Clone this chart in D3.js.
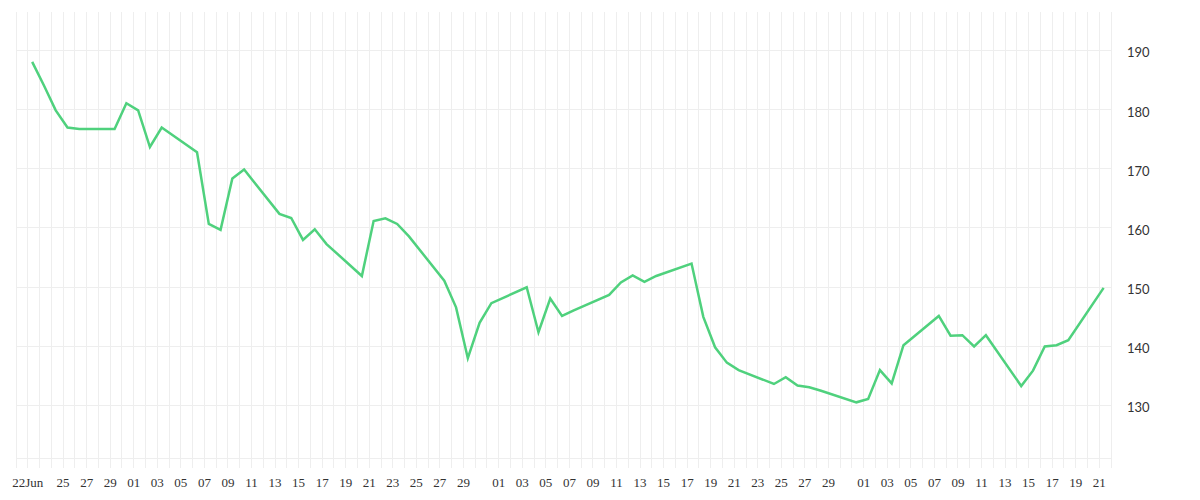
<!DOCTYPE html>
<html lang="en">
	<head>
		<meta charset="utf-8">
		<title>Daily Close</title>
		<script type="text/javascript" src="https://cdn.jsdelivr.net/npm/d3@7"></script>
		<style type="text/css">
		body {
			margin: 0;
			background-color: white;
		}

		.grid line {
			stroke: #eeeeee;
			stroke-width: 1px;
			shape-rendering: crispEdges;
		}

		.grid path {
			display: none;
		}

		.xlabels text {
			font-family: "Liberation Serif", serif;
			font-size: 13px;
			fill: #333;
		}

		.ylabels text {
			font-family: Lato, sans-serif;
			font-size: 13px;
			fill: #333;
		}

		.xlabels path, .xlabels line, .ylabels path, .ylabels line {
			display: none;
		}
		</style>
	</head>
	<body>
		<script type="text/javascript">

			//Trading days and closing values
			var dates = [
				"2020-06-22", "2020-06-23", "2020-06-24", "2020-06-25", "2020-06-26", "2020-06-29", "2020-06-30",
				"2020-07-01", "2020-07-02", "2020-07-03", "2020-07-06", "2020-07-07", "2020-07-08", "2020-07-09",
				"2020-07-10", "2020-07-13", "2020-07-14", "2020-07-15", "2020-07-16", "2020-07-17", "2020-07-20",
				"2020-07-21", "2020-07-22", "2020-07-23", "2020-07-24", "2020-07-27", "2020-07-28", "2020-07-29",
				"2020-07-30", "2020-07-31", "2020-08-03", "2020-08-04", "2020-08-05", "2020-08-06", "2020-08-07",
				"2020-08-10", "2020-08-11", "2020-08-12", "2020-08-13", "2020-08-14", "2020-08-17", "2020-08-18",
				"2020-08-19", "2020-08-20", "2020-08-21", "2020-08-24", "2020-08-25", "2020-08-26", "2020-08-27",
				"2020-08-28", "2020-08-31", "2020-09-01", "2020-09-02", "2020-09-03", "2020-09-04", "2020-09-07",
				"2020-09-08", "2020-09-09", "2020-09-10", "2020-09-11", "2020-09-14", "2020-09-15", "2020-09-16",
				"2020-09-17", "2020-09-18", "2020-09-21"
			];

			var values = [
				188.0, 184.0, 179.8, 176.9, 176.65, 176.65, 181.0,
				179.8, 173.6, 176.9, 172.7, 160.6, 159.6, 168.3,
				169.8, 162.3, 161.6, 157.9, 159.7, 157.2, 151.8,
				161.1, 161.55, 160.6, 158.5, 151.0, 146.5, 137.9,
				143.9, 147.2, 149.9, 142.3, 148.0, 145.05, 146.0,
				148.6, 150.7, 151.9, 150.8, 151.8, 153.9, 144.9,
				139.75, 137.15, 135.9, 133.55, 134.7, 133.3, 133.0,
				132.4, 130.45, 131.0, 135.9, 133.65, 140.1, 145.05,
				141.7, 141.8, 139.9, 141.8, 133.2, 135.8, 139.9,
				140.1, 140.95, 149.8
			];

			var yTicks = [130, 140, 150, 160, 170, 180, 190];

			//Value range of the plot area
			var yMin = 121.04;
			var yMax = 196.42;

			//Width and height
			var w = 1200;
			var h = 500;

			//Plot area edges
			var plotLeft = 15.5;
			var plotRight = 1110.5;
			var plotTop = 12;
			var plotBottom = 458;

			//Points sit a little after midnight of their day
			var hourOffset = 10;

			var parse = d3.utcParse("%Y-%m-%d");

			var dataset = dates.map(function(d, i) {
				return {date: parse(d), value: values[i]};
			});

			var firstDay = dataset[0].date;
			var lastDay = dataset[dataset.length - 1].date;
			var startDay = d3.utcDay.offset(firstDay, -1);
			var endDay = d3.utcDay.offset(lastDay, 1);

			var xScale = d3.scaleUtc()
							.domain([startDay, endDay])
							.range([plotLeft, plotRight]);

			var yScale = d3.scaleLinear()
							.domain([yMin, yMax])
							.range([plotBottom, plotTop]);

			//One gridline per calendar day
			var allDays = d3.utcDay.range(startDay, d3.utcDay.offset(endDay, 1));

			//Labels on odd days, first day gets the month
			var labelDays = [firstDay].concat(allDays.filter(function(d) {
				var day = d.getUTCDate();
				return day % 2 == 1 && day != 31 && d - firstDay > 2 * 864e5 && d <= lastDay;
			}));

			var fmtFirst = d3.utcFormat("%d%b");
			var fmtDay = d3.utcFormat("%d");

			//Create SVG element
			var svg = d3.select("body")
						.append("svg")
						.attr("width", w)
						.attr("height", h);

			//Vertical gridlines
			svg.append("g")
				.attr("class", "grid")
				.attr("transform", "translate(0," + (plotBottom + 10) + ")")
				.call(d3.axisBottom(xScale)
					.tickValues(allDays)
					.tickSize(-(plotBottom + 10 - plotTop))
					.tickFormat(""));

			//Horizontal gridlines
			svg.append("g")
				.attr("class", "grid")
				.attr("transform", "translate(" + plotRight + ",0)")
				.call(d3.axisLeft(yScale)
					.tickValues([yMin].concat(yTicks))
					.tickSize(plotRight - plotLeft)
					.tickFormat(""));

			//X labels
			svg.append("g")
				.attr("class", "xlabels")
				.attr("transform", "translate(0," + (plotBottom + 17) + ")")
				.call(d3.axisBottom(xScale)
					.tickValues(labelDays)
					.tickSize(0)
					.tickPadding(0)
					.tickFormat(function(d, i) {
						return i == 0 ? fmtFirst(d) : fmtDay(d);
					}))
				.selectAll("text")
				.attr("dy", "0.92em");

			//Y labels
			svg.append("g")
				.attr("class", "ylabels")
				.attr("transform", "translate(1127,0)")
				.call(d3.axisRight(yScale)
					.tickValues(yTicks)
					.tickSize(0)
					.tickPadding(0))
				.selectAll("text")
				.attr("dy", "7px");

			//Price line
			var line = d3.line()
						.x(function(d) { return xScale(d3.utcHour.offset(d.date, hourOffset)); })
						.y(function(d) { return yScale(d.value); });

			svg.append("path")
				.datum(dataset)
				.attr("fill", "none")
				.attr("stroke", "#4fd17d")
				.attr("stroke-width", 2.5)
				.attr("stroke-linejoin", "miter")
				.attr("d", line);

		</script>
	</body>
</html>
